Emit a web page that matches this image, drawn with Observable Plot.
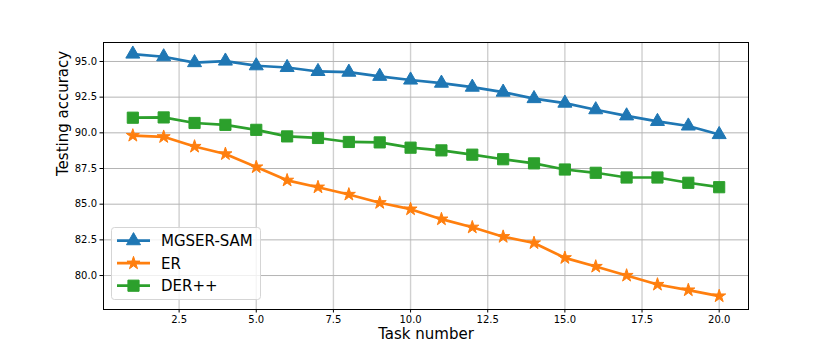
<!DOCTYPE html>
<html><head>
<meta charset="utf-8">
<script src="https://cdn.jsdelivr.net/npm/d3@7"></script>
<script src="https://cdn.jsdelivr.net/npm/@observablehq/plot@0.6"></script>
<style>body{margin:0;background:#fff} #chart{position:relative;width:830px;height:346px}</style>
</head><body><div id="chart"></div>
<script>
const tasks = [1,2,3,4,5,6,7,8,9,10,11,12,13,14,15,16,17,18,19,20];
const mgserSam = [95.52,95.33,94.92,95.03,94.70,94.58,94.30,94.25,93.96,93.70,93.48,93.20,92.85,92.40,92.08,91.62,91.19,90.80,90.48,89.88];
const er = [89.81,89.72,89.04,88.52,87.60,86.67,86.19,85.68,85.10,84.65,83.95,83.38,82.72,82.28,81.24,80.63,80.00,79.37,78.98,78.56];
const derpp = [91.06,91.08,90.69,90.56,90.21,89.75,89.64,89.36,89.33,88.96,88.77,88.47,88.15,87.86,87.43,87.20,86.87,86.87,86.50,86.19];
const seriesNames = ["MGSER-SAM","ER","DER++"];
const seriesValues = [mgserSam, er, derpp];
const colors = ["#1f77b4","#ff7f0e","#2ca02c"];
const symbols = ["triangle","star","square"];
const radii = [5.2,4.1,6.3];
const xTicks = [2.5,5,7.5,10,12.5,15,17.5,20];
const yTicks = [80,82.5,85,87.5,90,92.5,95];

const rows = [];
seriesNames.forEach((s,i)=>tasks.forEach((t,j)=>rows.push({series:s, task:t, acc:seriesValues[i][j]})));

const marks = [
  Plot.gridX(xTicks,{stroke:"#d0d0d0", strokeOpacity:1, strokeWidth:1.4}),
  Plot.gridY(yTicks,{stroke:"#b4b4b4", strokeOpacity:1, strokeWidth:1}),
  Plot.axisX(xTicks,{tickFormat:d=>d.toFixed(1), tickSize:3.5, tickPadding:3, label:null, fontSize:10}),
  Plot.axisY(yTicks,{tickFormat:d=>d.toFixed(1), tickSize:3.5, tickPadding:3, label:null, fontSize:10}),
  Plot.frame({stroke:"#000", strokeWidth:1}),
  Plot.text(["Task number"],{frameAnchor:"bottom", dy:25, fontSize:15, fill:"#000", lineAnchor:"middle"}),
  Plot.text(["Testing accuracy"],{frameAnchor:"left", dx:-40, rotate:-90, fontSize:15, fill:"#000"})
];
seriesNames.forEach((s,i)=>{
  const d = rows.filter(r=>r.series===s);
  marks.push(Plot.line(d,{x:"task", y:"acc", stroke:colors[i], strokeWidth:2.7}));
  marks.push(Plot.dot(d,{x:"task", y:"acc", symbol:()=>symbols[i], fill:colors[i], stroke:colors[i], strokeWidth:1, r:radii[i]}));
});

const chart = Plot.plot({
  width:830, height:346,
  marginLeft:103, marginRight:82, marginTop:42, marginBottom:37,
  style:{fontFamily:"DejaVu Sans", fontSize:"10px", color:"#000", background:"#fff"},
  x:{domain:[0.05,20.95]},
  y:{domain:[77.62,96.33]},
  symbol:{domain:symbols, range:symbols},
  marks
});
document.getElementById("chart").appendChild(chart);

// legend
const svg = d3.select(chart);
const lg = svg.append("g").attr("font-family","DejaVu Sans").attr("font-size",15).attr("text-anchor","start");
lg.append("rect").attr("x",111.5).attr("y",227.5).attr("width",149).attr("height",72).attr("rx",3)
  .attr("fill","#fff").attr("fill-opacity",0.8).attr("stroke","#d5d5d5");
const symMap = {triangle:d3.symbolTriangle, star:d3.symbolStar, square:d3.symbolSquare};
seriesNames.forEach((s,i)=>{
  const y = 240.7 + i*22.5;
  lg.append("line").attr("x1",117).attr("x2",150).attr("y1",y).attr("y2",y).attr("stroke",colors[i]).attr("stroke-width",2.7);
  lg.append("path").attr("d",d3.symbol(symMap[symbols[i]], radii[i]*radii[i]*Math.PI)()).attr("transform",`translate(133.5,${y})`)
    .attr("fill",colors[i]).attr("stroke",colors[i]);
  lg.append("text").attr("x",161).attr("y",y).attr("dy","0.36em").attr("fill","#000").attr("text-anchor","start").text(s);
});
</script>
</body></html>
